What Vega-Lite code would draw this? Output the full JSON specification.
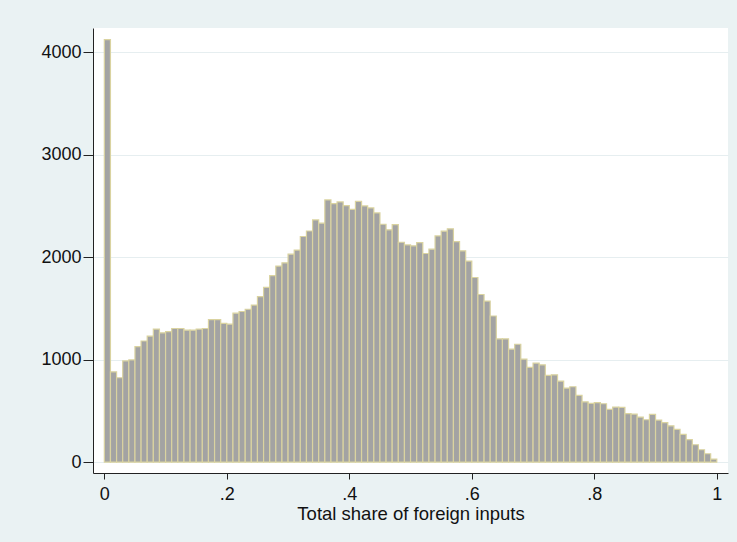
{
  "$schema": "https://vega.github.io/schema/vega-lite/v6.json",
  "width": 635,
  "height": 445,
  "autosize": {"type": "none"},
  "padding": {"left": 93, "top": 28, "right": 9, "bottom": 69},
  "background": "#EAF2F3",
  "view": {"fill": "white", "stroke": null},
  "config": {
    "font": "Liberation Sans",
    "axis": {
      "labelFont": "Liberation Sans",
      "titleFont": "Liberation Sans",
      "labelFontSize": 18,
      "titleFontSize": 18.5,
      "titleFontWeight": "normal",
      "labelColor": "#111111",
      "titleColor": "#111111",
      "domainColor": "#222222",
      "tickColor": "#222222",
      "domainWidth": 1,
      "tickWidth": 1
    }
  },
  "data": {
    "values": [
      {"start": 0.00, "end": 0.01, "count": 4125}, {"start": 0.01, "end": 0.02, "count": 881}, {"start": 0.02, "end": 0.03, "count": 823}, {"start": 0.03, "end": 0.04, "count": 987},
      {"start": 0.04, "end": 0.05, "count": 997}, {"start": 0.05, "end": 0.06, "count": 1127}, {"start": 0.06, "end": 0.07, "count": 1182}, {"start": 0.07, "end": 0.08, "count": 1229},
      {"start": 0.08, "end": 0.09, "count": 1298}, {"start": 0.09, "end": 0.10, "count": 1262}, {"start": 0.10, "end": 0.11, "count": 1273}, {"start": 0.11, "end": 0.12, "count": 1304},
      {"start": 0.12, "end": 0.13, "count": 1304}, {"start": 0.13, "end": 0.14, "count": 1288}, {"start": 0.14, "end": 0.15, "count": 1288}, {"start": 0.15, "end": 0.16, "count": 1298},
      {"start": 0.16, "end": 0.17, "count": 1304}, {"start": 0.17, "end": 0.18, "count": 1390}, {"start": 0.18, "end": 0.19, "count": 1390}, {"start": 0.19, "end": 0.20, "count": 1353},
      {"start": 0.20, "end": 0.21, "count": 1346}, {"start": 0.21, "end": 0.22, "count": 1454}, {"start": 0.22, "end": 0.23, "count": 1470}, {"start": 0.23, "end": 0.24, "count": 1492},
      {"start": 0.24, "end": 0.25, "count": 1533}, {"start": 0.25, "end": 0.26, "count": 1615}, {"start": 0.26, "end": 0.27, "count": 1705}, {"start": 0.27, "end": 0.28, "count": 1821},
      {"start": 0.28, "end": 0.29, "count": 1913}, {"start": 0.29, "end": 0.30, "count": 1945}, {"start": 0.30, "end": 0.31, "count": 2030}, {"start": 0.31, "end": 0.32, "count": 2070},
      {"start": 0.32, "end": 0.33, "count": 2202}, {"start": 0.33, "end": 0.34, "count": 2256}, {"start": 0.34, "end": 0.35, "count": 2364}, {"start": 0.35, "end": 0.36, "count": 2332},
      {"start": 0.36, "end": 0.37, "count": 2559}, {"start": 0.37, "end": 0.38, "count": 2524}, {"start": 0.38, "end": 0.39, "count": 2540}, {"start": 0.39, "end": 0.40, "count": 2503},
      {"start": 0.40, "end": 0.41, "count": 2468}, {"start": 0.41, "end": 0.42, "count": 2546}, {"start": 0.42, "end": 0.43, "count": 2501}, {"start": 0.43, "end": 0.44, "count": 2481},
      {"start": 0.44, "end": 0.45, "count": 2432}, {"start": 0.45, "end": 0.46, "count": 2322}, {"start": 0.46, "end": 0.47, "count": 2267}, {"start": 0.47, "end": 0.48, "count": 2319},
      {"start": 0.48, "end": 0.49, "count": 2146}, {"start": 0.49, "end": 0.50, "count": 2120}, {"start": 0.50, "end": 0.51, "count": 2111}, {"start": 0.51, "end": 0.52, "count": 2143},
      {"start": 0.52, "end": 0.53, "count": 2036}, {"start": 0.53, "end": 0.54, "count": 2078}, {"start": 0.54, "end": 0.55, "count": 2208}, {"start": 0.55, "end": 0.56, "count": 2254},
      {"start": 0.56, "end": 0.57, "count": 2277}, {"start": 0.57, "end": 0.58, "count": 2153}, {"start": 0.58, "end": 0.59, "count": 2062}, {"start": 0.59, "end": 0.60, "count": 1962},
      {"start": 0.60, "end": 0.61, "count": 1802}, {"start": 0.61, "end": 0.62, "count": 1636}, {"start": 0.62, "end": 0.63, "count": 1572}, {"start": 0.63, "end": 0.64, "count": 1426},
      {"start": 0.64, "end": 0.65, "count": 1203}, {"start": 0.65, "end": 0.66, "count": 1203}, {"start": 0.66, "end": 0.67, "count": 1102}, {"start": 0.67, "end": 0.68, "count": 1150},
      {"start": 0.68, "end": 0.69, "count": 1005}, {"start": 0.69, "end": 0.70, "count": 924}, {"start": 0.70, "end": 0.71, "count": 966}, {"start": 0.71, "end": 0.72, "count": 949},
      {"start": 0.72, "end": 0.73, "count": 846}, {"start": 0.73, "end": 0.74, "count": 852}, {"start": 0.74, "end": 0.75, "count": 790}, {"start": 0.75, "end": 0.76, "count": 722},
      {"start": 0.76, "end": 0.77, "count": 735}, {"start": 0.77, "end": 0.78, "count": 651}, {"start": 0.78, "end": 0.79, "count": 588}, {"start": 0.79, "end": 0.80, "count": 572},
      {"start": 0.80, "end": 0.81, "count": 580}, {"start": 0.81, "end": 0.82, "count": 569}, {"start": 0.82, "end": 0.83, "count": 514}, {"start": 0.83, "end": 0.84, "count": 537},
      {"start": 0.84, "end": 0.85, "count": 533}, {"start": 0.85, "end": 0.86, "count": 472}, {"start": 0.86, "end": 0.87, "count": 468}, {"start": 0.87, "end": 0.88, "count": 439},
      {"start": 0.88, "end": 0.89, "count": 413}, {"start": 0.89, "end": 0.90, "count": 465}, {"start": 0.90, "end": 0.91, "count": 410}, {"start": 0.91, "end": 0.92, "count": 384},
      {"start": 0.92, "end": 0.93, "count": 354}, {"start": 0.93, "end": 0.94, "count": 319}, {"start": 0.94, "end": 0.95, "count": 270}, {"start": 0.95, "end": 0.96, "count": 218},
      {"start": 0.96, "end": 0.97, "count": 169}, {"start": 0.97, "end": 0.98, "count": 120}, {"start": 0.98, "end": 0.99, "count": 81}, {"start": 0.99, "end": 1.00, "count": 29}
    ]
  },
  "mark": {"type": "bar", "fill": "#A3A3A3", "stroke": "#DAD3A0", "strokeWidth": 1.2},
  "encoding": {
    "x": {
      "field": "start",
      "type": "quantitative",
      "scale": {"domain": [-0.0185, 1.0183], "nice": false, "zero": false},
      "axis": {
        "title": "Total share of foreign inputs",
        "values": [0, 0.2, 0.4, 0.6, 0.8, 1],
        "labelExpr": "datum.value == 0 ? '0' : (datum.value == 1 ? '1' : '.' + format(datum.value * 10, 'd'))",
        "grid": false,
        "tickSize": 6,
        "labelPadding": 6,
        "titlePadding": 1,
        "labelFlush": false
      }
    },
    "x2": {"field": "end"},
    "y": {
      "field": "count",
      "type": "quantitative",
      "scale": {"domain": [-107, 4238], "nice": false, "zero": false},
      "axis": {
        "title": null,
        "values": [0, 1000, 2000, 3000, 4000],
        "format": "d",
        "grid": true,
        "gridColor": "#E6EEF0",
        "gridWidth": 1,
        "tickSize": 10,
        "labelPadding": 2,
        "labelFlush": false
      }
    },
    "y2": {"datum": 0}
  }
}
